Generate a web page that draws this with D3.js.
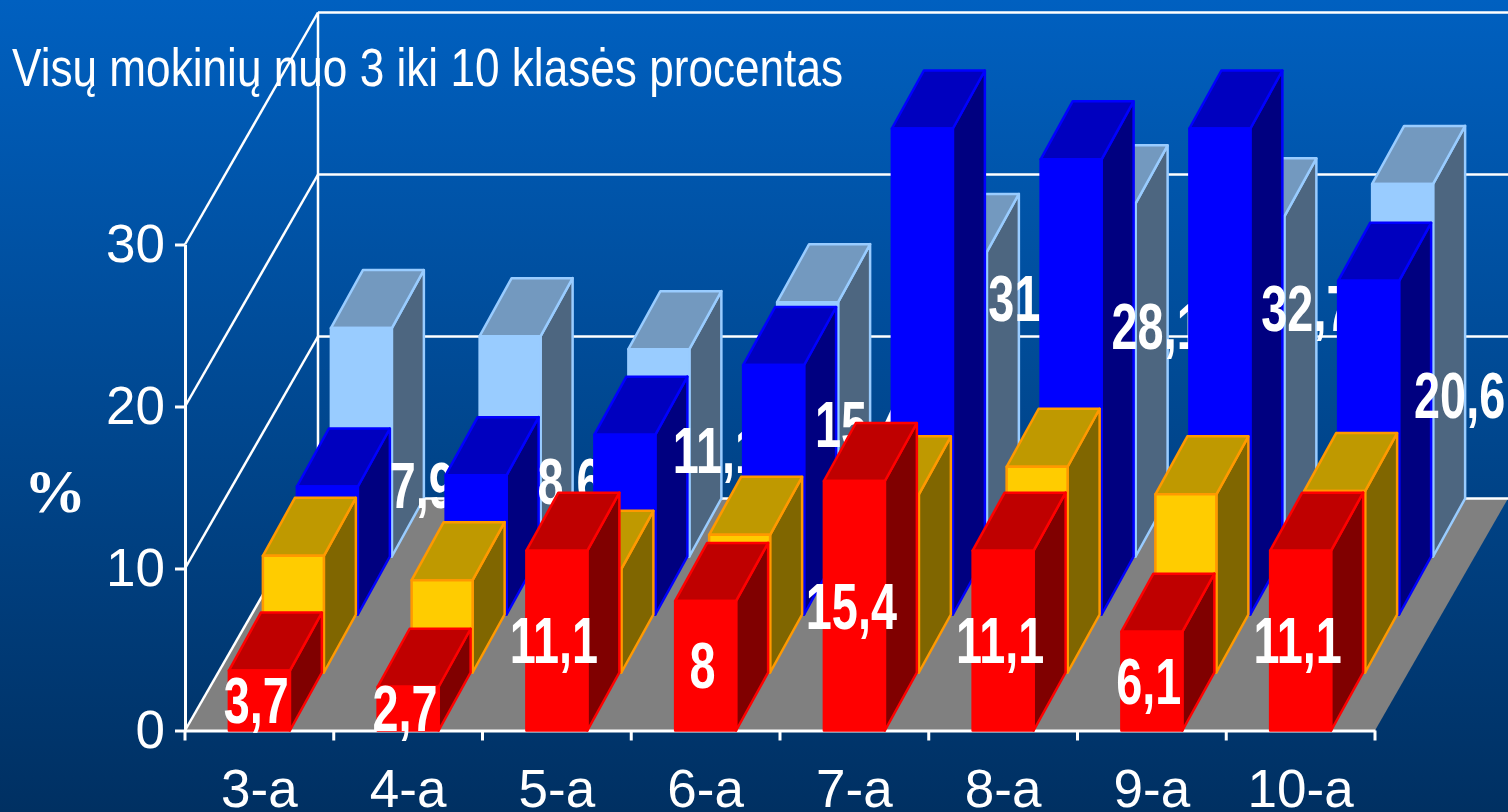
<!DOCTYPE html>
<html>
<head>
<meta charset="utf-8">
<script src="https://cdn.jsdelivr.net/npm/d3@7"></script>
<style>
html, body { margin: 0; padding: 0; background: #003062; overflow: hidden; }
svg { display: block; }
text { font-family: "Liberation Sans", Arial, sans-serif; fill: #fff; }
</style>
</head>
<body>
<div id="chart"></div>
<script>
var width = 1508, height = 812;

var categories = ["3-a", "4-a", "5-a", "6-a", "7-a", "8-a", "9-a", "10-a"];
var yTicks = [0, 10, 20, 30];
var titleText = "Visų mokinių nuo 3 iki 10 klasės procentas";

// front row to back row
var redValues = [3.7, 2.7, 11.1, 8, 15.4, 11.1, 6.1, 11.1];
var yellowValues = [7.2, 5.7, 6.4, 8.5, 11, 12.7, 11, 11.2];
var blueValues = [7.9, 8.6, 11.1, 15.4, 31, 28.1, 32.7, 20.6];
var lightValues = [14.1, 13.6, 12.8, 15.7, 18.8, 21.8, 21, 23];

// hand nudges for the blue labels, the original sits them a bit unevenly
var blueLabelDx = [3, 2, 0, -5, 0, -6, -5, -1];
var blueLabelDy = [1, 2, -8, 0, -7, 5, 3, 14];

var rows = [
    { values: redValues, face: "#FF0000", top: "#BF0000", side: "#800000", edge: "#FF0000", label: "mid" },
    { values: yellowValues, face: "#FFCC00", top: "#BF9900", side: "#806600", edge: "#FF9900" },
    { values: blueValues, face: "#0000FF", top: "#0000BF", side: "#000080", edge: "#0000FF", label: "beside" },
    { values: lightValues, face: "#99CCFF", top: "#7399BF", side: "#4D6680", edge: "#99CCFF" }
];

var x = d3.scaleBand().domain(categories).range([185, 1375]).paddingInner(0.59).paddingOuter(0.295);
var y = d3.scaleLinear().domain([0, 30]).range([730.5, 244.5]).clamp(true);

// oblique depth: 0 is the front edge of the floor, 4 the back wall
var depthX = d3.scaleLinear().domain([0, 4]).range([0, 136]);
var depthY = d3.scaleLinear().domain([0, 4]).range([0, -232]);
var wallDx = 133, wallDy = -232;
var barDx = 32;

var left = x.range()[0], right = x.range()[1];

var svg = d3.select("#chart").append("svg")
    .attr("width", width)
    .attr("height", height);

var grad = svg.append("defs").append("linearGradient")
    .attr("id", "bg")
    .attr("x1", 0).attr("y1", 0).attr("x2", 0).attr("y2", 1);
grad.append("stop").attr("offset", "0%").attr("stop-color", "#0060C0");
grad.append("stop").attr("offset", "100%").attr("stop-color", "#003062");

svg.append("rect")
    .attr("width", width)
    .attr("height", height)
    .attr("fill", "url(#bg)");

var line = d3.line();
var shape = pts => line(pts) + "Z";

// floor
svg.append("path")
    .attr("d", shape([
        [left, y(0)],
        [right, y(0)],
        [right + wallDx, y(0) + wallDy],
        [left + wallDx, y(0) + wallDy]
    ]))
    .attr("fill", "#808080");

// walls
var walls = svg.append("g")
    .attr("fill", "none")
    .attr("stroke", "#fff")
    .attr("stroke-width", 2.5);

walls.selectAll(".back")
    .data(yTicks)
    .join("path")
    .attr("class", "back")
    .attr("d", d => line([[left + wallDx, y(d) + wallDy], [width, y(d) + wallDy]]));

walls.selectAll(".side")
    .data(yTicks)
    .join("path")
    .attr("class", "side")
    .attr("d", d => line([[left, y(d)], [left + wallDx, y(d) + wallDy]]));

walls.append("path")
    .attr("d", line([[left + wallDx, y(30) + wallDy], [left + wallDx, y(0) + wallDy]]));

// axes
var yAxis = svg.append("g")
    .attr("transform", `translate(${left},0)`)
    .call(d3.axisLeft(y).tickValues(yTicks).tickSize(10).tickSizeOuter(0).tickPadding(10));

var xAxis = svg.append("g")
    .attr("transform", `translate(0,${y(0)})`)
    .call(d3.axisBottom(x).tickSize(0).tickSizeOuter(0).tickPadding(39));

[yAxis, xAxis].forEach(a => {
    a.selectAll("path, line").attr("stroke", "#fff").attr("stroke-width", 3);
    a.selectAll("text").attr("font-size", 53).attr("fill", "#fff").attr("font-family", '"Liberation Sans"');
});

// ticks sit between the categories, not under them
svg.append("g")
    .selectAll("line")
    .data(d3.range(categories.length + 1))
    .join("line")
    .attr("x1", i => left + i * x.step())
    .attr("x2", i => left + i * x.step())
    .attr("y1", y(0))
    .attr("y2", y(0) + 10)
    .attr("stroke", "#fff")
    .attr("stroke-width", 3);

// back row first, then left to right inside a row, so later bars cover earlier labels
var bars = [];
d3.range(rows.length - 1, -1, -1).forEach(r => {
    categories.forEach((c, i) => {
        bars.push({ row: r, cat: c, idx: i, value: rows[r].values[i], style: rows[r] });
    });
});

var fmt = v => String(v).replace(".", ",");

var barG = svg.append("g")
    .selectAll("g")
    .data(bars)
    .join("g");

barG.each(function (d) {
    var g = d3.select(this);
    var x0 = x(d.cat) + depthX(d.row);
    var x1 = x0 + x.bandwidth();
    var yBase = y(0) + depthY(d.row);
    var yTop = yBase - (y(0) - y(d.value));
    var backDy = depthY(1);

    var part = (pts, fill) => g.append("path")
        .attr("d", shape(pts))
        .attr("fill", fill)
        .attr("stroke", d.style.edge)
        .attr("stroke-width", 2.5)
        .attr("stroke-linejoin", "round");

    part([[x1, yTop], [x1 + barDx, yTop + backDy], [x1 + barDx, yBase + backDy], [x1, yBase]], d.style.side);
    part([[x0, yTop], [x1, yTop], [x1 + barDx, yTop + backDy], [x0 + barDx, yTop + backDy]], d.style.top);
    part([[x0, yBase], [x1, yBase], [x1, yTop], [x0, yTop]], d.style.face);

    if (d.style.label) {
        var mid = (yBase + yTop) / 2;
        var cx = (x0 + x1) / 2;
        var lx = d.style.label === "mid" ? cx - 3 : cx + 92 + blueLabelDx[d.idx];
        var ly = d.style.label === "mid" ? mid : mid - 66 + blueLabelDy[d.idx];
        g.append("text")
            .attr("transform", `translate(${lx},${ly}) scale(0.72,1)`)
            .attr("text-anchor", "middle")
            .attr("dy", "0.35em")
            .attr("font-size", 65)
            .attr("font-weight", "bold")
            .text(fmt(d.value));
    }
});

svg.append("text")
    .attr("x", 12)
    .attr("y", 86)
    .attr("font-size", 54)
    .attr("textLength", 831)
    .attr("lengthAdjust", "spacingAndGlyphs")
    .text(titleText);

svg.append("text")
    .attr("x", 24)
    .attr("y", 512)
    .attr("font-size", 62)
    .attr("font-weight", "bold")
    .style("font-family", '"Liberation Serif", serif')
    .text("%");
</script>
</body>
</html>
